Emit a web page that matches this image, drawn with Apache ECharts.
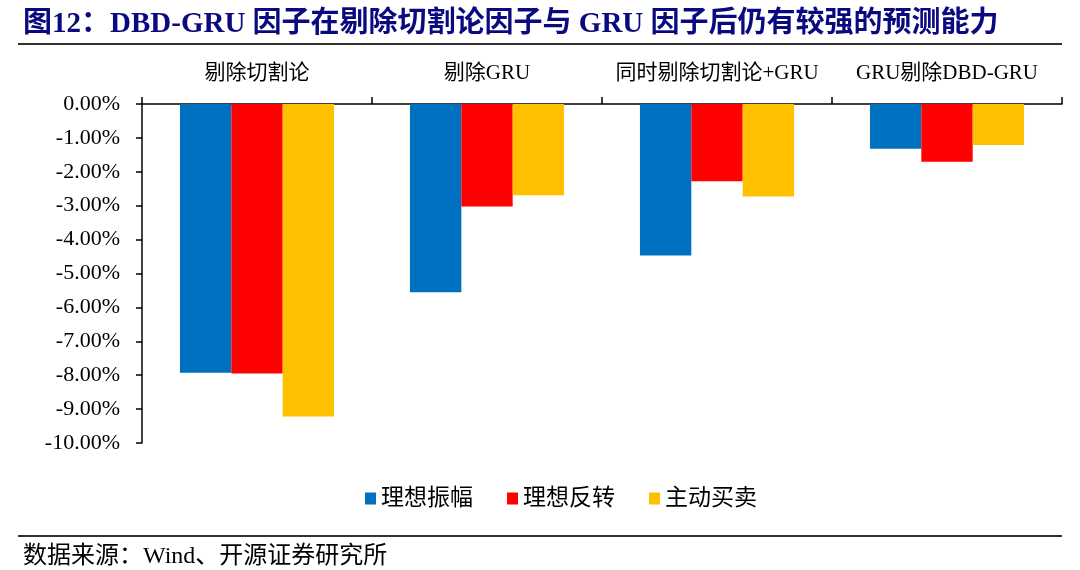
<!DOCTYPE html>
<html>
<head>
<meta charset="utf-8">
<script src="https://cdn.jsdelivr.net/npm/echarts@6/dist/echarts.min.js"></script>
<style>
  html, body { margin: 0; padding: 0; background: #fff; }
  #chart { width: 1080px; height: 570px; }
</style>
</head>
<body>
<div id="chart"></div>
<script>
var categories = ['剔除切割论', '剔除GRU', '同时剔除切割论+GRU', 'GRU剔除DBD-GRU'];
var seriesNames = ['理想振幅', '理想反转', '主动买卖'];
var amplitude = [-7.93, -5.55, -4.47, -1.32];   // 理想振幅
var reversal = [-7.95, -3.02, -2.28, -1.70];    // 理想反转
var activeTrade = [-9.22, -2.69, -2.73, -1.21]; // 主动买卖
var colors = ['#0070C0', '#FF0000', '#FFC000'];

var serif = '"Liberation Serif", "Times New Roman", "Noto Sans CJK SC", serif';

var myChart = echarts.init(document.getElementById('chart'));
var option = {
    animation: false,
    color: colors,
    title: [
        {
            text: '图12：DBD-GRU 因子在剔除切割论因子与 GRU 因子后仍有较强的预测能力',
            left: 18,
            top: 5,
            textStyle: {
                fontFamily: serif,
                fontSize: 29,
                fontWeight: 'bold',
                color: '#0A0A80'
            }
        },
        {
            text: '数据来源：Wind、开源证券研究所',
            left: 18,
            top: 540,
            textStyle: {
                fontFamily: serif,
                fontSize: 24,
                fontWeight: 'normal',
                color: '#000'
            }
        }
    ],
    graphic: [
        { type: 'line', shape: { x1: 18, y1: 44, x2: 1062, y2: 44 }, style: { stroke: '#333', lineWidth: 2 } },
        { type: 'line', shape: { x1: 18, y1: 536, x2: 1062, y2: 536 }, style: { stroke: '#333', lineWidth: 2 } }
    ],
    legend: {
        data: seriesNames,
        left: 360,
        top: 482,
        icon: 'rect',
        itemWidth: 11,
        itemHeight: 12,
        itemGap: 34,
        textStyle: {
            fontFamily: serif,
            fontSize: 23,
            color: '#000'
        }
    },
    grid: {
        left: 142,
        right: 18,
        top: 104,
        bottom: 127
    },
    xAxis: {
        type: 'category',
        position: 'top',
        data: categories,
        axisLine: { lineStyle: { color: '#000', width: 1.5 } },
        axisTick: { show: true, interval: 0, length: 7, lineStyle: { color: '#000', width: 1.5 } },
        axisLabel: {
            interval: 0,
            margin: 20,
            fontFamily: serif,
            fontSize: 21,
            color: '#000'
        }
    },
    yAxis: {
        type: 'value',
        min: -10,
        max: 0,
        interval: 1,
        axisLine: { show: true, lineStyle: { color: '#000', width: 1.5 } },
        axisTick: { show: true, length: 6, lineStyle: { color: '#000', width: 1.5 } },
        splitLine: { show: false },
        axisLabel: {
            margin: 22,
            fontFamily: serif,
            fontSize: 22,
            color: '#000',
            formatter: function (v) { return v.toFixed(2) + '%'; }
        }
    },
    series: [
        { name: seriesNames[0], type: 'bar', data: amplitude, barGap: '0%', barCategoryGap: '33%' },
        { name: seriesNames[1], type: 'bar', data: reversal, barGap: '0%', barCategoryGap: '33%' },
        { name: seriesNames[2], type: 'bar', data: activeTrade, barGap: '0%', barCategoryGap: '33%' }
    ]
};
myChart.setOption(option);
</script>
</body>
</html>
